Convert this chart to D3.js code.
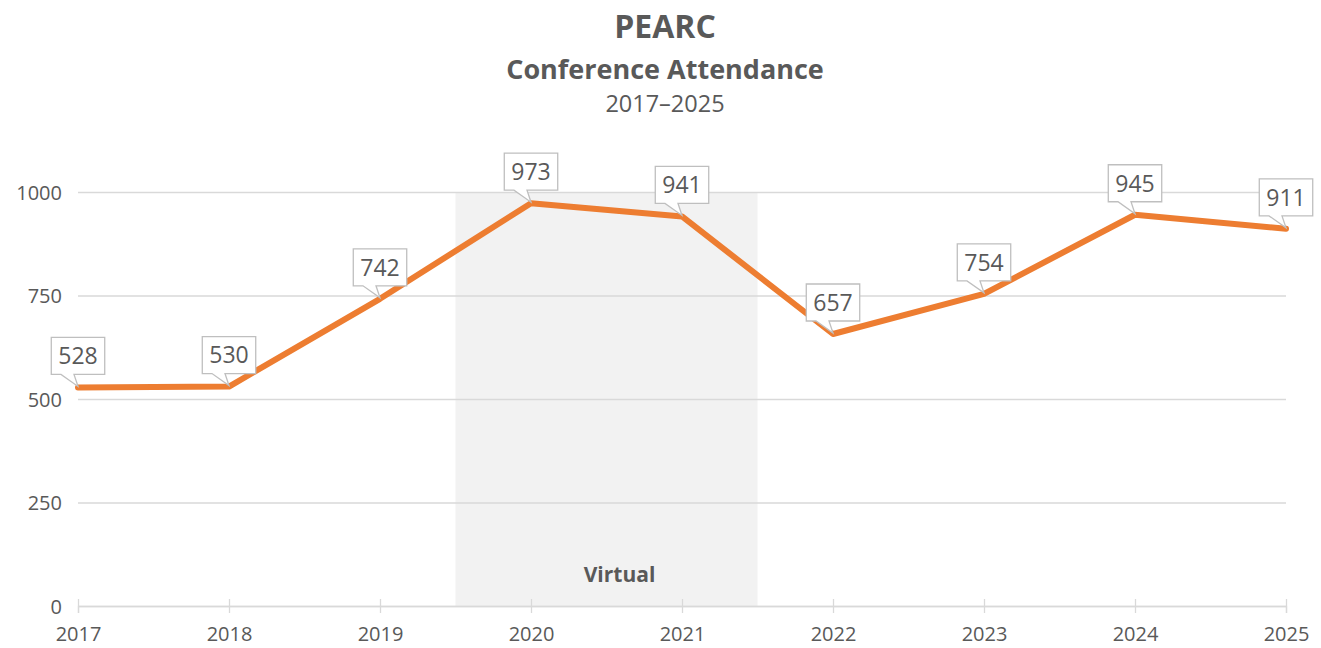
<!DOCTYPE html>
<html>
<head>
<meta charset="utf-8">
<script src="https://cdn.jsdelivr.net/npm/d3@7"></script>
<style>
  body { margin: 0; background: #fff; }
  svg { display: block; font-family: "Open Sans", "Liberation Sans", sans-serif; }
</style>
</head>
<body>
<svg id="chart"></svg>
<script>
// --- data ---
const years = [2017, 2018, 2019, 2020, 2021, 2022, 2023, 2024, 2025];
const attendance = [528, 530, 742, 973, 941, 657, 754, 945, 911];
const yTicks = [0, 250, 500, 750, 1000];
const virtualYears = [2020, 2021];

const width = 1321;
const height = 648;
const margin = { top: 192, right: 35, bottom: 42, left: 78 };

const svg = d3.select("#chart").attr("width", width).attr("height", height);

const x = d3.scaleLinear()
  .domain([years[0], years[years.length - 1]])
  .range([margin.left, width - margin.right]);

const y = d3.scaleLinear()
  .domain([0, 1000])
  .range([height - margin.bottom, margin.top]);

const textColor = "#595959";

// --- titles ---
const cx = 665;
svg.append("text").attr("x", cx).attr("y", 38).attr("text-anchor", "middle")
  .style("font-size", "32px").style("font-weight", "bold").style("fill", textColor).text("PEARC");
svg.append("text").attr("x", cx).attr("y", 79).attr("text-anchor", "middle")
  .style("font-size", "27px").style("font-weight", "bold").style("fill", textColor).text("Conference Attendance");
svg.append("text").attr("x", cx).attr("y", 112).attr("text-anchor", "middle")
  .style("font-size", "23.5px").style("fill", textColor).text("2017–2025");

// --- virtual band ---
const bandX0 = x(virtualYears[0] - 0.5);
const bandX1 = x(virtualYears[1] + 0.5);
svg.append("rect")
  .attr("x", bandX0).attr("y", y(1000))
  .attr("width", bandX1 - bandX0).attr("height", y(0) - y(1000))
  .attr("fill", "#f2f2f2");
svg.append("text")
  .attr("x", (bandX0 + bandX1) / 2 + 13).attr("y", y(0) - 24)
  .attr("text-anchor", "middle")
  .style("font-size", "21px").style("font-weight", "bold").style("fill", textColor)
  .text("Virtual");

// --- gridlines & y axis ---
const yAxis = svg.append("g")
  .attr("transform", `translate(${margin.left},0)`)
  .call(d3.axisLeft(y).tickValues(yTicks).tickSize(-(width - margin.left - margin.right)).tickFormat(d3.format("d")));
yAxis.select(".domain").remove();
yAxis.selectAll(".tick line").attr("stroke", "#d9d9d9").attr("stroke-width", 1.3);
yAxis.selectAll(".tick text")
  .attr("x", -16).attr("dy", "0.35em")
  .style("font-size", "20px").style("fill", textColor).style("font-family", "Open Sans, sans-serif");

// --- x axis ---
const xAxis = svg.append("g")
  .attr("transform", `translate(0,${y(0)})`)
  .call(d3.axisBottom(x).tickValues(years).tickSize(7).tickFormat(d3.format("d")));
xAxis.select(".domain").attr("stroke", "#d9d9d9").attr("stroke-width", 1.3);
xAxis.selectAll(".tick line").attr("stroke", "#d9d9d9").attr("stroke-width", 1.3).attr("y1", -7).attr("y2", 7);
xAxis.selectAll(".tick text")
  .attr("y", 21).attr("dy", "0.71em")
  .style("font-size", "20px").style("fill", textColor).style("font-family", "Open Sans, sans-serif");

// --- line ---
const pts = years.map((yr, i) => ({ year: yr, value: attendance[i] }));
const line = d3.line().x(d => x(d.year)).y(d => y(d.value));
svg.append("path")
  .datum(pts)
  .attr("d", line)
  .attr("fill", "none")
  .attr("stroke", "#ed7d31")
  .attr("stroke-width", 6)
  .attr("stroke-linejoin", "round")
  .attr("stroke-linecap", "round");

// --- callout labels ---
const labels = svg.append("g").selectAll("g").data(pts).join("g");
labels.each(function (d) {
  const g = d3.select(this);
  const px = x(d.year), py = y(d.value);
  const t = g.append("text")
    .attr("x", px).attr("text-anchor", "middle")
    .style("font-size", "23px").style("fill", textColor)
    .text(d.value);
  const tw = t.node().getComputedTextLength();
  const w = tw + 14, h = 37;
  const bottom = py - 13, top = bottom - h;
  const left = px - w / 2, right = px + w / 2;
  const path = `M${left},${top}H${right}V${bottom}H${px - 4}L${px},${py - 1}L${px - 17},${bottom}H${left}Z`;
  g.insert("path", "text")
    .attr("d", path)
    .attr("fill", "#fff")
    .attr("stroke", "#bfbfbf")
    .attr("stroke-width", 1.3);
  t.attr("y", top + h / 2).attr("dy", "0.36em");
});
</script>
</body>
</html>
